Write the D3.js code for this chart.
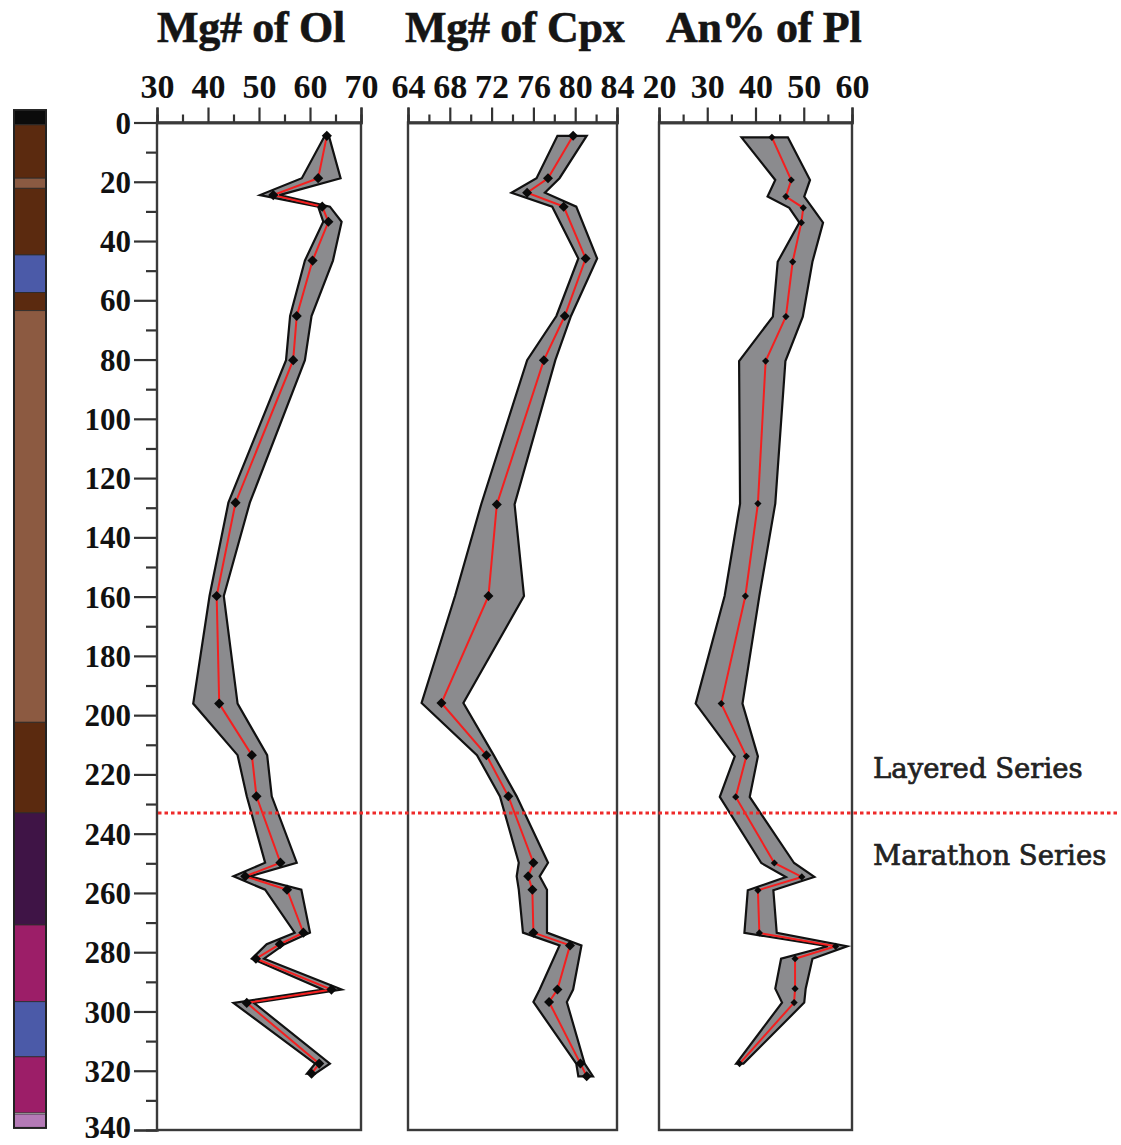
<!DOCTYPE html>
<html>
<head>
<meta charset="utf-8">
<script src="https://cdn.jsdelivr.net/npm/d3@7"></script>
<style>
  html, body { margin: 0; padding: 0; background: #fff; }
  svg { display: block; }
</style>
</head>
<body>
<svg id="chart" width="1121" height="1145"></svg>
<script>
// ---- Depth axis ----
const depthTicks = [0, 20, 40, 60, 80, 100, 120, 140, 160, 180, 200, 220, 240, 260, 280, 300, 320, 340];
const depthMinorTicks = [10, 30, 50, 70, 90, 110, 130, 150, 170, 190, 210, 230, 250, 270, 290, 310, 330];

// ---- Lithology column (top depth, base depth, colour) ----
const lithTop   = [-4.2, 0.8, 18.8, 22.2, 44.7, 57.4, 63.5, 202.4, 233.0, 270.8, 296.7, 315.3, 334.6];
const lithBase  = [0.8, 18.8, 22.2, 44.7, 57.4, 63.5, 202.4, 233.0, 270.8, 296.7, 315.3, 334.2, 339.3];
const lithColor = ["#0b0b0b", "#5b2a0f", "#8a5a42", "#5b2a0f", "#4b5aa8", "#5b2a0f", "#8c5a41",
                   "#5b2a0f", "#3f1446", "#9c1e68", "#4b5aa8", "#9c1e68", "#b47ab6"];

// ---- Series boundary ----
const seriesLabels = ["Layered Series", "Marathon Series"];
const seriesBoundary = 233;

// ---- Mg# of olivine ----
const olDepth = [4.5, 18.8, 24.5, 28.4, 33.5, 46.6, 65.3, 80.2, 128.3, 159.8, 196.1, 213.5, 227.4,
                 249.8, 254.4, 258.9, 273.4, 277.3, 282.2, 292.6, 297.1, 317.6, 321.0];
const olMg    = [63.3, 61.6, 52.8, 62.4, 63.6, 60.5, 57.4, 56.7, 45.4, 41.7, 42.2, 48.6, 49.5,
                 54.2, 47.3, 55.5, 58.7, 54.1, 49.4, 64.2, 47.6, 61.8, 60.3];
const olMin   = [62.9, 58.4, 50.2, 61.6, 62.6, 59.0, 56.1, 55.3, 44.0, 40.3, 37.1, 45.8, 47.6,
                 51.2, 45.0, 51.2, 57.0, 51.5, 48.6, 62.5, 45.0, 61.0, 59.4];
const olMax   = [63.7, 66.0, 54.0, 63.9, 66.2, 64.5, 60.3, 59.0, 48.2, 43.1, 45.8, 51.6, 52.5,
                 57.4, 48.2, 58.3, 60.0, 55.0, 51.0, 66.2, 49.0, 63.9, 61.0];

// ---- Mg# of clinopyroxene ----
const cpxDepth = [4.5, 18.8, 23.7, 28.4, 45.9, 65.3, 80.2, 128.9, 159.8, 195.9, 213.5, 227.4,
                  249.8, 254.4, 258.9, 273.4, 277.7, 292.6, 296.8, 317.6, 321.9];
const cpxMg    = [79.8, 77.4, 75.4, 78.9, 81.0, 79.0, 77.0, 72.5, 71.7, 67.2, 71.5, 73.6,
                  76.0, 75.5, 75.9, 76.0, 79.5, 78.3, 77.5, 80.5, 81.1];
const cpxMin   = [78.3, 76.3, 73.9, 77.8, 80.3, 78.2, 75.4, 71.0, 68.5, 65.3, 70.6, 72.8,
                  74.6, 74.4, 74.6, 75.0, 78.5, 76.6, 76.0, 80.1, 80.3];
const cpxMax   = [81.1, 78.5, 77.1, 80.1, 82.1, 79.6, 78.1, 74.2, 75.1, 69.3, 72.2, 74.4,
                  77.4, 76.6, 77.3, 77.3, 80.6, 79.8, 79.2, 80.9, 81.7];

// ---- An% of plagioclase ----
const plDepth = [5.0, 19.4, 25.0, 28.8, 33.8, 47.0, 65.5, 80.5, 128.6, 159.8, 196.1, 213.9, 227.6,
                 249.9, 254.6, 259.1, 273.5, 278.0, 282.2, 292.3, 297.0, 317.6];
const plAn    = [43.4, 47.4, 46.3, 49.9, 49.5, 47.7, 46.3, 42.1, 40.5, 37.9, 32.9, 38.1, 35.9,
                 43.9, 49.6, 40.5, 40.8, 56.6, 48.2, 48.2, 48.0, 36.7];
const plMin   = [37.1, 44.1, 42.5, 47.0, 49.1, 44.6, 43.6, 36.6, 36.8, 33.6, 27.6, 35.7, 32.6,
                 41.2, 46.3, 38.4, 37.7, 55.0, 45.3, 44.1, 45.5, 36.0];
const plMax   = [46.7, 51.3, 50.1, 51.8, 54.0, 51.8, 49.8, 46.2, 44.1, 40.8, 37.3, 40.5, 38.8,
                 48.0, 52.2, 43.7, 44.4, 59.0, 51.8, 50.4, 50.1, 37.5];

// ---- Panel titles and value axes ----
const panelTitles = ["Mg# of Ol", "Mg# of Cpx", "An% of Pl"];
const olTicks = [30, 40, 50, 60, 70],  olMinorTicks = [35, 45, 55, 65];
const cpxTicks = [64, 68, 72, 76, 80, 84], cpxMinorTicks = [66, 70, 74, 78, 82];
const plTicks = [20, 30, 40, 50, 60],  plMinorTicks = [25, 35, 45, 55];

const panels = [
  { title: panelTitles[0], domain: [30, 70], range: [157, 361], ticks: olTicks, minor: olMinorTicks,
    depth: olDepth, value: olMg, lo: olMin, hi: olMax, mark: 52, titleX: 157 },
  { title: panelTitles[1], domain: [64, 84], range: [408, 617], ticks: cpxTicks, minor: cpxMinorTicks,
    depth: cpxDepth, value: cpxMg, lo: cpxMin, hi: cpxMax, mark: 50, titleX: 405 },
  { title: panelTitles[2], domain: [20, 60], range: [659, 852], ticks: plTicks, minor: plMinorTicks,
    depth: plDepth, value: plAn, lo: plMin, hi: plMax, mark: 26, titleX: 666 }
];

const svg = d3.select("#chart");
const y = d3.scaleLinear().domain([0, 340]).range([122.5, 1130]);
const boldSerif = "'Liberation Serif', 'Times New Roman', serif";

// Lithology column
const lith = svg.append("g");
lith.selectAll("rect.layer")
  .data(lithTop.map((t, i) => ({ top: t, base: lithBase[i], color: lithColor[i] })))
  .join("rect")
  .attr("class", "layer")
  .attr("x", 14).attr("width", 32)
  .attr("y", d => y(d.top))
  .attr("height", d => y(d.base) - y(d.top))
  .attr("fill", d => d.color)
  .attr("stroke", "#2a2a2a").attr("stroke-width", 0.8);
lith.append("rect")
  .attr("x", 14).attr("width", 32)
  .attr("y", y(lithTop[0])).attr("height", y(lithBase[lithBase.length - 1]) - y(lithTop[0]))
  .attr("fill", "none").attr("stroke", "#222").attr("stroke-width", 2);

// Depth axis on the left edge of the first panel
const xLeft = panels[0].range[0];
const yAxisMinor = svg.append("g").attr("transform", `translate(${xLeft},0)`)
  .call(d3.axisLeft(y).tickValues(depthMinorTicks).tickSize(11).tickFormat(""));
const yAxisMajor = svg.append("g").attr("transform", `translate(${xLeft},0)`)
  .call(d3.axisLeft(y).tickValues(depthTicks).tickSize(23).tickPadding(3).tickFormat(d3.format("d")));
[yAxisMinor, yAxisMajor].forEach(g => {
  g.select(".domain").attr("stroke", "#333").attr("stroke-width", 2.2);
  g.selectAll(".tick line").attr("stroke", "#333").attr("stroke-width", 2.2);
});
// the deepest label sits on the page edge, so it is nudged up slightly
yAxisMajor.selectAll(".tick text")
  .attr("font-family", boldSerif).attr("font-weight", "bold")
  .attr("font-size", 31).attr("fill", "#111")
  .attr("dy", d => d === 340 ? "0.24em" : "0.34em");

// Panels
panels.forEach(p => {
  const x = d3.scaleLinear().domain(p.domain).range(p.range);
  const g = svg.append("g");
  const rows = p.depth.map((d, i) => ({ d, v: p.value[i], lo: p.lo[i], hi: p.hi[i] }));

  g.append("rect")
    .attr("x", p.range[0]).attr("y", y(0))
    .attr("width", p.range[1] - p.range[0]).attr("height", y(340) - y(0))
    .attr("fill", "#fff").attr("stroke", "#3a3a3a").attr("stroke-width", 2.4);

  // top value axis: minor and major ticks
  const minorAx = g.append("g").attr("transform", `translate(0,${y(0)})`)
    .call(d3.axisTop(x).tickValues(p.minor).tickSize(8).tickFormat(""));
  const majorAx = g.append("g").attr("transform", `translate(0,${y(0)})`)
    .call(d3.axisTop(x).tickValues(p.ticks).tickSize(15).tickPadding(10).tickFormat(d3.format("d")));
  [minorAx, majorAx].forEach(a => {
    a.select(".domain").attr("stroke", "#3a3a3a").attr("stroke-width", 2.4);
    a.selectAll(".tick line").attr("stroke", "#333").attr("stroke-width", 2.2);
  });
  majorAx.selectAll(".tick text")
    .attr("font-family", boldSerif).attr("font-weight", "bold")
    .attr("font-size", 34).attr("fill", "#111");

  // title
  g.append("text")
    .attr("x", p.titleX).attr("y", 42)
    .attr("font-family", boldSerif).attr("font-weight", "bold")
    .attr("font-size", 44).attr("letter-spacing", -0.3).attr("fill", "#151515")
    .attr("stroke", "#151515").attr("stroke-width", 0.6)
    .text(p.title);

  // min–max envelope
  const area = d3.area()
    .y(r => y(r.d))
    .x0(r => x(r.lo))
    .x1(r => x(r.hi));
  g.append("path").datum(rows)
    .attr("d", area)
    .attr("fill", "#8b8b8e").attr("stroke", "#111").attr("stroke-width", 2.2)
    .attr("stroke-linejoin", "miter");

  // mean profile
  const line = d3.line().x(r => x(r.v)).y(r => y(r.d));
  g.append("path").datum(rows)
    .attr("d", line)
    .attr("fill", "none").attr("stroke", "#f41f1f").attr("stroke-width", 2);

  // sample markers
  g.selectAll("path.mark").data(rows).join("path")
    .attr("class", "mark")
    .attr("d", d3.symbol(d3.symbolSquare, p.mark))
    .attr("transform", r => `translate(${x(r.v)},${y(r.d)}) rotate(45)`)
    .attr("fill", "#0a0a0a");
});

// Boundary between the Layered and Marathon series
const yb = y(seriesBoundary);
svg.append("line")
  .attr("x1", xLeft + 1).attr("x2", 1117)
  .attr("y1", yb).attr("y2", yb)
  .attr("stroke", "#ee2a2a").attr("stroke-width", 3)
  .attr("stroke-dasharray", "3.5,3");

const labelFont = "'DejaVu Serif', 'Liberation Serif', serif";
svg.selectAll("text.series")
  .data(seriesLabels)
  .join("text")
  .attr("class", "series")
  .attr("x", 873)
  .attr("y", (d, i) => i === 0 ? yb - 35 : yb + 52)
  .attr("font-family", labelFont).attr("font-size", 27.5)
  .attr("fill", "#222").attr("stroke", "#222").attr("stroke-width", 0.7)
  .text(d => d);
</script>
</body>
</html>
